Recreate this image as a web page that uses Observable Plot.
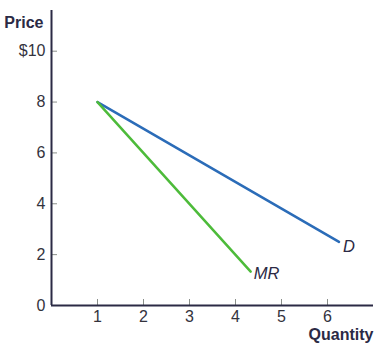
<!DOCTYPE html>
<html>
<head>
<meta charset="utf-8">
<script src="https://cdn.jsdelivr.net/npm/d3@7"></script>
<script src="https://cdn.jsdelivr.net/npm/@observablehq/plot@0.6"></script>
<style>
  html, body { margin: 0; padding: 0; background: #fff; }
  svg { display: block; }
</style>
</head>
<body>
<div id="chart"></div>
<script>
// Demand curve D and marginal revenue MR (Quantity, Price)
const demandQ = [1, 6.25];
const demandP = [8, 2.5];
const mrQ = [1, 4.33];
const mrP = [8, 1.33];

const xTicks = [1, 2, 3, 4, 5, 6];
const yTicks = [0, 2, 4, 6, 8, 10];
const yTickLabels = ["0", "2", "4", "6", "8", "$10"];

const demand = demandQ.map((q, i) => ({q, p: demandP[i]}));
const mr = mrQ.map((q, i) => ({q, p: mrP[i]}));

const axisColor = "#2b2a45";
const font = "Liberation Sans, Arial, sans-serif";

const chart = Plot.plot({
  width: 382,
  height: 356,
  marginLeft: 51,
  marginRight: 9,
  marginTop: 10,
  marginBottom: 51,
  style: {fontFamily: font, fontSize: "16px", background: "#fff", color: "#333"},
  x: {domain: [0, 7]},
  y: {domain: [0, 11.6]},
  marks: [
    Plot.axisX(xTicks, {tickSize: -6, tickPadding: 11, stroke: "#8a8f8a", fill: "#33333d", label: null, fontSize: 16}),
    Plot.axisY(yTicks, {tickSize: -6, tickPadding: 12, stroke: "#8a8f8a", fill: "#33333d", label: null, fontSize: 16,
      tickFormat: (d) => yTickLabels[yTicks.indexOf(d)]}),
    Plot.ruleX([0], {stroke: axisColor, strokeWidth: 2}),
    Plot.ruleY([0], {stroke: axisColor, strokeWidth: 2}),
    Plot.line(demand, {x: "q", y: "p", stroke: "#2b6cb8", strokeWidth: 2.5}),
    Plot.line(mr, {x: "q", y: "p", stroke: "#4dbb3a", strokeWidth: 2.5}),
    Plot.text(demand.slice(-1), {x: "q", y: "p", text: () => "D", textAnchor: "start", dx: 4, dy: 5,
      fontStyle: "italic", fontSize: 16.5, fill: "#2b2a45"}),
    Plot.text(mr.slice(-1), {x: "q", y: "p", text: () => "MR", textAnchor: "start", dx: 3, dy: 2,
      fontStyle: "italic", fontSize: 16.5, fill: "#2b2a45"}),
    Plot.text(["Price"], {frameAnchor: "top-left", textAnchor: "end", dx: -8, dy: 6,
      fontSize: 16, fill: axisColor, fontWeight: "bold"}),
    Plot.text(["Quantity"], {frameAnchor: "bottom-right", textAnchor: "end", dx: 0, dy: 34,
      fontSize: 16, fill: axisColor, fontWeight: "bold"})
  ]
});
document.getElementById("chart").append(chart);
</script>
</body>
</html>
